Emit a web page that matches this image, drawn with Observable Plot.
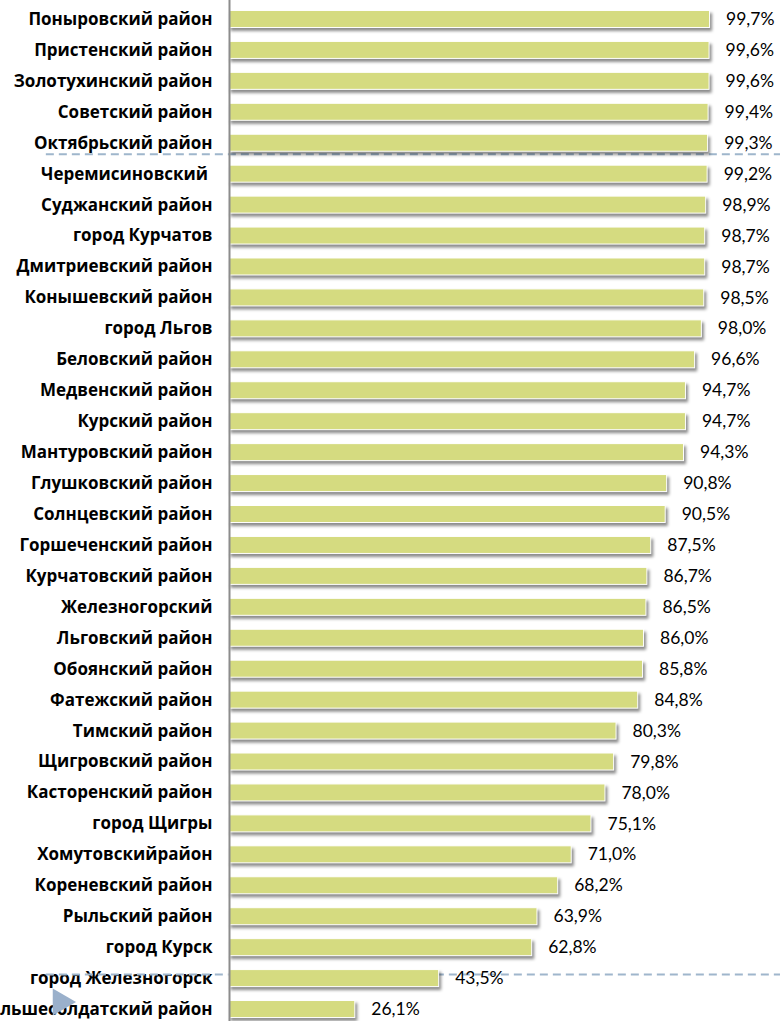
<!DOCTYPE html>
<html>
<head>
<meta charset="utf-8">
<script src="https://cdn.jsdelivr.net/npm/d3@7"></script>
<script src="https://cdn.jsdelivr.net/npm/@observablehq/plot@0.6"></script>
<style>
  html, body { margin: 0; padding: 0; background: #fff; overflow: hidden; }
  #chart { width: 780px; height: 1021px; }
</style>
</head>
<body>
<div id="chart"></div>
<script>
const categories = [
  "Поныровский район", "Пристенский район", "Золотухинский район", "Советский район",
  "Октябрьский район", "Черемисиновский ", "Суджанский район", "город Курчатов",
  "Дмитриевский район", "Конышевский район", "город Льгов", "Беловский район",
  "Медвенский район", "Курский район", "Мантуровский район", "Глушковский район",
  "Солнцевский район", "Горшеченский район", "Курчатовский район", "Железногорский",
  "Льговский район", "Обоянский район", "Фатежский район", "Тимский район",
  "Щигровский район", "Касторенский район", "город Щигры", "Хомутовскийрайон",
  "Кореневский район", "Рыльский район", "город Курск", "город Железногорск",
  "Большесолдатский район"
];
const values = [
  99.7, 99.6, 99.6, 99.4,
  99.3, 99.2, 98.9, 98.7,
  98.7, 98.5, 98.0, 96.6,
  94.7, 94.7, 94.3, 90.8,
  90.5, 87.5, 86.7, 86.5,
  86.0, 85.8, 84.8, 80.3,
  79.8, 78.0, 75.1, 71.0,
  68.2, 63.9, 62.8, 43.5,
  26.1
];
const dividerTop = ["Октябрьский район"];
const dividerBottom = ["город Железногорск"];

const data = categories.map((name, i) => ({name, value: values[i]}));
const fmt = v => v.toFixed(1).replace(".", ",") + "%";
const dashStyle = {stroke: "#9fb6cc", strokeWidth: 2, strokeDasharray: "8,5", x1: -38, x2: 115};

const chart = Plot.plot({
  width: 780,
  height: 1025,
  marginLeft: 229,
  marginRight: 69,
  marginTop: 3.5,
  marginBottom: 0.5,
  style: {fontFamily: "'Open Sans', sans-serif", fontSize: "17px", fontWeight: "bold", color: "#000", background: "#fff", overflow: "visible"},
  x: {domain: [0, 100], axis: null},
  y: {domain: categories, paddingInner: 0.45, paddingOuter: 0.225, label: null, tickSize: 0, tickPadding: 17},
  marks: [
    Plot.ruleY(dividerTop, {y: d => d, dy: 11, ...dashStyle}),
    Plot.ruleY(dividerBottom, {y: d => d, dy: -4, ...dashStyle}),
    Plot.barX(data, {x: "value", y: "name", fill: "#d5db80", stroke: "#ffffff", strokeWidth: 1}),
    Plot.ruleX([0], {stroke: "#8c8c8c", strokeWidth: 2, insetTop: -4}),
    Plot.dot([null], {frameAnchor: "bottom-left", dx: -169, dy: -23, symbol: "triangle", rotate: 90, r: 10, fill: "#9ab0cb", stroke: "none"}),
    Plot.text(data, {x: "value", y: "name", text: d => fmt(d.value), dx: 16, textAnchor: "start", fontFamily: "Lato, sans-serif", fontSize: 17.5, fontWeight: "normal", fill: "#000"})
  ]
});

const bars = chart.querySelector('g[aria-label="bar"]');
if (bars) bars.style.filter = "drop-shadow(2px 3px 1.5px rgba(0,0,0,0.45))";

document.getElementById("chart").appendChild(chart);
</script>
</body>
</html>
